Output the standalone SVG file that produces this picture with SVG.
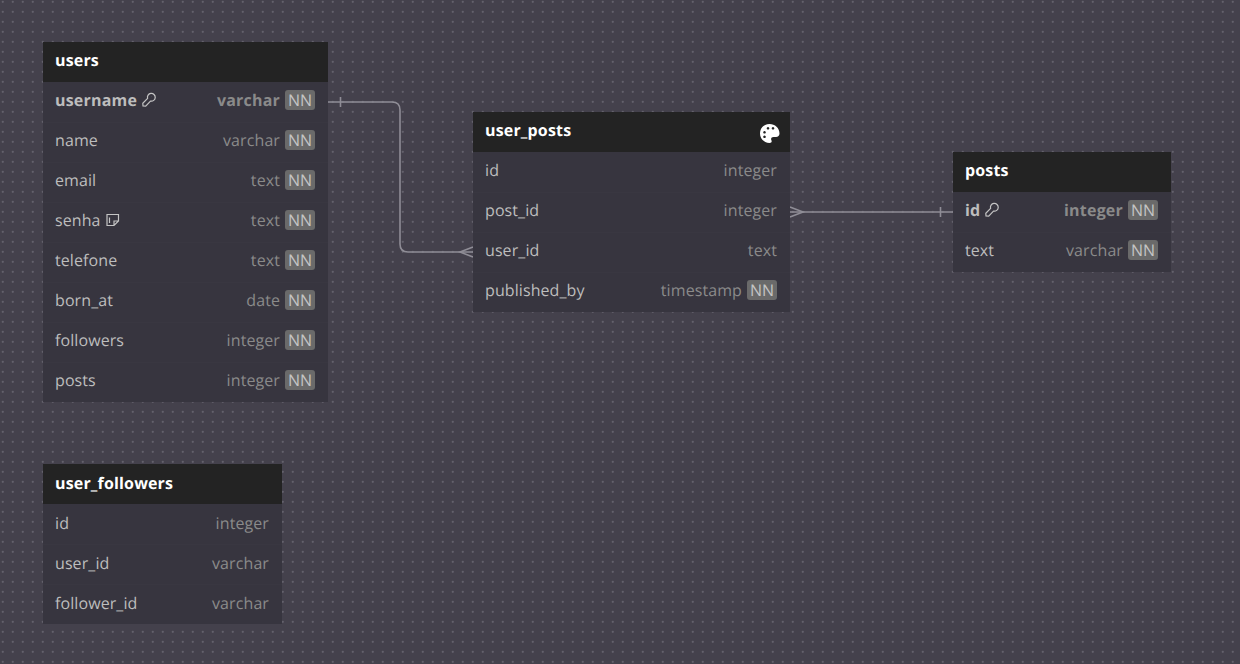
<svg xmlns="http://www.w3.org/2000/svg" width="1240" height="664" viewBox="0 0 1240 664">
<style>
text{font-family:"Open Sans","Noto Sans",sans-serif;font-size:16px;text-rendering:geometricPrecision;letter-spacing:.09px}
.body{fill:#37353f}
.head{fill:#232323}
.title{fill:#fff;font-weight:700;letter-spacing:.16px}
.name{fill:#bdbdbd}
.type{fill:#8a8a8a;text-anchor:end}
.b{font-weight:700;letter-spacing:.2px}
.nn{fill:#6a6a6a}
.nnt{fill:#c4c4c4;text-anchor:middle;letter-spacing:0}
.sep{stroke:#393741;stroke-width:1}
.conn{fill:none;stroke:#8f8d96;stroke-width:1.6}
.ico{fill:none;stroke:#c4c4c4;stroke-width:1.2}
</style>
<defs>
<pattern id="dots" x="0" y="0" width="10" height="10" patternUnits="userSpaceOnUse"><circle cx="2.800" cy="1.800" r="1.100" fill="#64616c"/></pattern>
<g id="nn"><rect class="nn" x="0" y="0" width="30" height="20" rx="3"/><text class="nnt" x="15" y="16">NN</text></g>
<g id="key"><path class="ico" d="M1 13 L.8 10.300 L5.600 5.400 A3.900 3.900 0 1 1 8.500 8.100 L3.700 13.100 Z"/><path class="ico" d="M9 3.500h.1"/></g>
</defs>
<rect width="1240" height="664" fill="#44414c"/>
<rect width="1240" height="664" fill="url(#dots)"/>
<g id="connectors">
<path class="conn" d="M328 102H392Q400 102 400 110V244Q400 252 408 252H473"/>
<path class="conn" d="M340.500 97V107M473 247L460 252L473 257"/>
<path class="conn" d="M790 212H953"/>
<path class="conn" d="M940.500 207V217M790 207L803 212L790 217"/>
</g>
<g id="users">
<rect class="body" x="43" y="42" width="285" height="360"/><rect class="head" x="43" y="42" width="285" height="40"/>
<path class="sep" d="M43 122.500H328M43 162.500H328M43 202.500H328M43 242.500H328M43 282.500H328M43 322.500H328M43 362.500H328"/>
<text class="title" x="55" y="66">users</text>
<text class="name b" x="55" y="106">username</text><use href="#key" x="142" y="93"/><text class="type b" x="280" y="106">varchar</text><use href="#nn" x="285" y="90"/>
<text class="name" x="55" y="146">name</text><text class="type" x="280" y="146">varchar</text><use href="#nn" x="285" y="130"/>
<text class="name" x="55" y="186">email</text><text class="type" x="280" y="186">text</text><use href="#nn" x="285" y="170"/>
<text class="name" x="55" y="226">senha</text><path class="ico" d="M107 214.500H118.500V221L114 225.500H107Z M114 225.500V221H118.500 M109.500 217.500V223"/><text class="type" x="280" y="226">text</text><use href="#nn" x="285" y="210"/>
<text class="name" x="55" y="266">telefone</text><text class="type" x="280" y="266">text</text><use href="#nn" x="285" y="250"/>
<text class="name" x="55" y="306">born_at</text><text class="type" x="280" y="306">date</text><use href="#nn" x="285" y="290"/>
<text class="name" x="55" y="346">followers</text><text class="type" x="280" y="346">integer</text><use href="#nn" x="285" y="330"/>
<text class="name" x="55" y="386">posts</text><text class="type" x="280" y="386">integer</text><use href="#nn" x="285" y="370"/>
</g>
<g id="user_posts">
<rect class="body" x="473" y="112" width="317" height="200"/><rect class="head" x="473" y="112" width="317" height="40"/>
<path class="sep" d="M473 192.500H790M473 232.500H790M473 272.500H790"/>
<text class="title" x="485" y="136">user_posts</text>
<path fill="#fff" fill-rule="evenodd" d="M769.500 124C764 124 760 128 760 133.500C760 139 764.500 143 769.500 143C771.500 143 772 141.500 771.500 140.500C770.500 138.500 771.500 137 773.500 137H776C778 137 779.500 135.500 779.500 133.500C779.500 128 775 124 769.500 124ZM764.500 131a1.300 1.300 0 1 0 .01 0ZM768 127a1.300 1.300 0 1 0 .01 0ZM773 127a1.300 1.300 0 1 0 .01 0ZM764.500 135.500a1.300 1.300 0 1 0 .01 0Z"/>
<text class="name" x="485" y="176">id</text><text class="type" x="777" y="176">integer</text>
<text class="name" x="485" y="216">post_id</text><text class="type" x="777" y="216">integer</text>
<text class="name" x="485" y="256">user_id</text><text class="type" x="777" y="256">text</text>
<text class="name" x="485" y="296">published_by</text><text class="type" x="742" y="296">timestamp</text><use href="#nn" x="747" y="280"/>
</g>
<g id="posts">
<rect class="body" x="953" y="152" width="218" height="120"/><rect class="head" x="953" y="152" width="218" height="40"/>
<path class="sep" d="M953 232.500H1171"/>
<text class="title" x="965" y="176">posts</text>
<text class="name b" x="965" y="216">id</text><use href="#key" x="985" y="203"/><text class="type b" x="1123" y="216">integer</text><use href="#nn" x="1128" y="200"/>
<text class="name" x="965" y="256">text</text><text class="type" x="1123" y="256">varchar</text><use href="#nn" x="1128" y="240"/>
</g>
<g id="user_followers">
<rect class="body" x="43" y="464" width="239" height="160"/><rect class="head" x="43" y="464" width="239" height="40"/>
<path class="sep" d="M43 544.500H282M43 584.500H282"/>
<text class="title" x="55" y="489">user_followers</text>
<text class="name" x="55" y="529">id</text><text class="type" x="269" y="529">integer</text>
<text class="name" x="55" y="569">user_id</text><text class="type" x="269" y="569">varchar</text>
<text class="name" x="55" y="609">follower_id</text><text class="type" x="269" y="609">varchar</text>
</g>
</svg>
